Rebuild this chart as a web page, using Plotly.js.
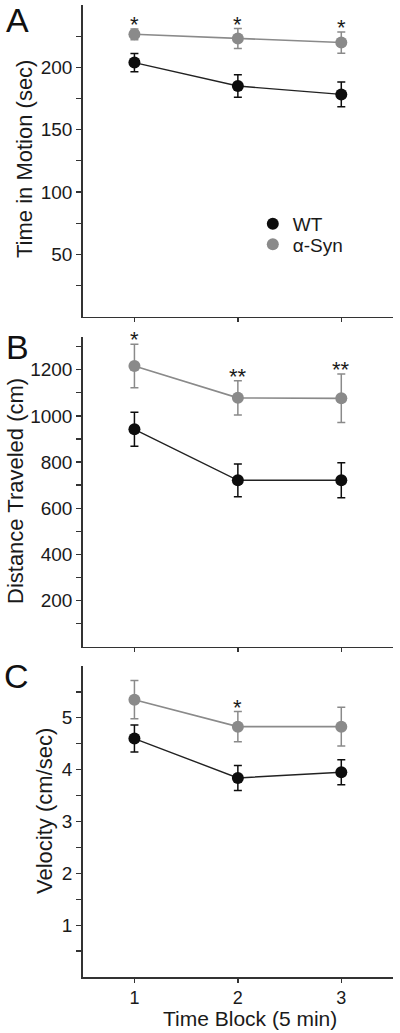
<!DOCTYPE html>
<html>
<head>
<meta charset="utf-8">
<script src="https://cdn.plot.ly/plotly-3.0.1.min.js"></script>
<style>
html,body{margin:0;padding:0;background:#fff;}
#chart{width:400px;height:1033px;}
</style>
</head>
<body>
<div id="chart"></div>
<script>
// ---- data ----
const blocks = [1, 2, 3];
const seriesNames = ['WT', 'α-Syn'];

const wtTime = [203.8, 185.0, 178.3];
const wtTimeErr = [7.3, 9, 10];
const synTime = [226.5, 223.1, 219.9];
const synTimeErr = [4.3, 8, 8.5];
const sigTime = ['*', '*', '*'];

const wtDist = [942, 721, 721];
const wtDistErr = [74, 71, 76];
const synDist = [1216, 1078, 1076];
const synDistErr = [94, 74, 105];
const sigDist = ['*', '**', '**'];

const wtVel = [4.6, 3.84, 3.95];
const wtVelErr = [0.26, 0.24, 0.24];
const synVel = [5.35, 4.83, 4.83];
const synVelErr = [0.37, 0.29, 0.375];
const sigVel = ['', '*', ''];

const yTitles = ['Time in Motion (sec)', 'Distance Traveled (cm)', 'Velocity (cm/sec)'];
const panelLetters = ['A', 'B', 'C'];
const xTitle = 'Time Block (5 min)';

const tickA = [25, 50, 75, 100, 125, 150, 175, 200, 225];
const tickAText = ['', '50', '', '100', '', '150', '', '200', ''];
const tickB = [100, 200, 300, 400, 500, 600, 700, 800, 900, 1000, 1100, 1200, 1300];
const tickBText = ['', '200', '', '400', '', '600', '', '800', '', '1000', '', '1200', ''];
const tickC = [0.5, 1, 1.5, 2, 2.5, 3, 3.5, 4, 4.5, 5, 5.5];
const tickCText = ['', '1', '', '2', '', '3', '', '4', '', '5', ''];

// ---- style ----
const FONT = 'Liberation Sans, Arial, Helvetica, sans-serif';
const BLACK = '#0d0d0d';
const GRAY = '#8a8a8a';
const AXIS = '#333333';
const TXT = '#1a1a1a';

const panels = [
  {wt: wtTime, wtE: wtTimeErr, syn: synTime, synE: synTimeErr, sig: sigTime, ticks: tickA, tickText: tickAText, range: [0, 250], dom: [0.69342, 0.99516]},
  {wt: wtDist, wtE: wtDistErr, syn: synDist, synE: synDistErr, sig: sigDist, ticks: tickB, tickText: tickBText, range: [0, 1343], dom: [0.37396, 0.67406]},
  {wt: wtVel, wtE: wtVelErr, syn: synVel, synE: synVelErr, sig: sigVel, ticks: tickC, tickText: tickCText, range: [0, 6], dom: [0.05421, 0.35528]}
];

const traces = [];
const annotations = [];
const legendStyle = (yPx) => ({
  x: 0.632, xanchor: 'left', y: 1 - yPx / 1033, yanchor: 'middle',
  bgcolor: 'rgba(0,0,0,0)', font: {size: 19, family: FONT, color: TXT},
  tracegroupgap: 0, itemwidth: 30
});
const layout = {
  width: 400, height: 1033,
  margin: {l: 0, r: 0, t: 0, b: 0},
  paper_bgcolor: '#fff', plot_bgcolor: '#fff',
  font: {family: FONT, color: TXT, size: 18},
  showlegend: true,
  legend: legendStyle(224),
  legend2: legendStyle(244.5)
};

const titleX = [25, 15, 44];
const titleY = [159, 491, 811];
const letterPos = [[17.5, 20], [17, 347], [16, 675.5]];

panels.forEach((p, i) => {
  const xa = i === 0 ? 'x' : 'x' + (i + 1);
  const ya = i === 0 ? 'y' : 'y' + (i + 1);
  const xk = i === 0 ? 'xaxis' : 'xaxis' + (i + 1);
  const yk = i === 0 ? 'yaxis' : 'yaxis' + (i + 1);

  traces.push({x: blocks, y: p.syn, xaxis: xa, yaxis: ya, mode: 'lines', line: {color: GRAY, width: 1.6}, showlegend: false, hoverinfo: 'skip'});
  traces.push({x: blocks, y: p.wt, xaxis: xa, yaxis: ya, mode: 'lines', line: {color: '#222', width: 1.4}, showlegend: false, hoverinfo: 'skip'});
  traces.push({x: blocks, y: p.wt, xaxis: xa, yaxis: ya, mode: 'markers', name: seriesNames[0],
    legend: 'legend', marker: {color: BLACK, size: 12}, showlegend: i === 0,
    error_y: {type: 'data', array: p.wtE, visible: true, color: BLACK, thickness: 1.5, width: 4}});
  traces.push({x: blocks, y: p.syn, xaxis: xa, yaxis: ya, mode: 'markers', name: seriesNames[1],
    legend: 'legend2', marker: {color: GRAY, size: 12}, showlegend: i === 0,
    error_y: {type: 'data', array: p.synE, visible: true, color: GRAY, thickness: 1.5, width: 4}});

  layout[xk] = {
    domain: [0.2068, 0.9825], range: [0.5, 3.5], anchor: ya,
    showline: true, linecolor: AXIS, linewidth: 1.5, mirror: false,
    ticks: 'outside', ticklen: 4, tickwidth: 1.3, tickcolor: AXIS,
    tickvals: blocks, ticktext: blocks.map(String),
    showticklabels: i === 2, tickfont: {size: 18, family: FONT, color: TXT},
    showgrid: false, zeroline: false, fixedrange: true
  };
  layout[yk] = {
    domain: p.dom, range: p.range, anchor: xa,
    showline: true, linecolor: AXIS, linewidth: 1.5,
    ticks: 'outside', ticklen: 5, tickwidth: 1.3, tickcolor: AXIS,
    tickvals: p.ticks, ticktext: p.tickText,
    tickfont: {size: 19, family: FONT, color: TXT},
    showgrid: false, zeroline: false, fixedrange: true
  };

  // significance asterisks above the α-Syn error bars
  blocks.forEach((b, j) => {
    if (p.sig[j]) {
      annotations.push({x: b, y: p.syn[j] + p.synE[j], xref: xa, yref: ya, text: p.sig[j],
        showarrow: false, xanchor: 'center', yanchor: 'bottom', yshift: -10,
        font: {size: 22, family: FONT, color: TXT}});
    }
  });

  annotations.push({x: titleX[i] / 400, y: 1 - titleY[i] / 1033, xref: 'paper', yref: 'paper',
    text: yTitles[i], textangle: -90, showarrow: false, xanchor: 'center', yanchor: 'middle',
    font: {size: 22, family: FONT, color: TXT}});
  annotations.push({x: letterPos[i][0] / 400, y: 1 - letterPos[i][1] / 1033, xref: 'paper', yref: 'paper',
    text: panelLetters[i], showarrow: false, xanchor: 'center', yanchor: 'middle',
    font: {size: 34, family: FONT, color: '#111'}});
});

annotations.push({x: 250 / 400, y: 1 - 1018 / 1033, xref: 'paper', yref: 'paper', text: xTitle,
  showarrow: false, xanchor: 'center', yanchor: 'middle', font: {size: 21, family: FONT, color: TXT}});

layout.annotations = annotations;

Plotly.newPlot('chart', traces, layout, {staticPlot: true, displayModeBar: false});
</script>
</body>
</html>
